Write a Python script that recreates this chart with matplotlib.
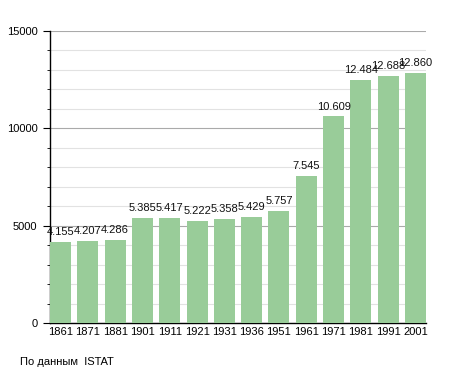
import numpy as np
import matplotlib
matplotlib.use("Agg")
from matplotlib import pyplot as plt
from matplotlib.ticker import MultipleLocator

years = ['1861', '1871', '1881', '1901', '1911', '1921', '1931',
         '1936', '1951', '1961', '1971', '1981', '1991', '2001']
population = [4155, 4207, 4286, 5385, 5417, 5222, 5358,
              5429, 5757, 7545, 10609, 12484, 12688, 12860]
value_labels = ['4.155', '4.207', '4.286', '5.385', '5.417', '5.222', '5.358',
                '5.429', '5.757', '7.545', '10.609', '12.484', '12.688', '12.860']

plt.rcParams['font.family'] = ['Liberation Sans', 'DejaVu Sans']

fig = plt.figure(figsize=(4.55, 3.73), dpi=100)
ax = fig.add_axes([50 / 455, 50 / 373, 376 / 455, 292 / 373])

x = np.arange(len(years))
w = 0.77
ax.bar(x, population, width=w, color='#99cc99', zorder=3)

# value labels above the bars
for xi, v, lab in zip(x, population, value_labels):
    ax.text(xi, v + 250, lab, ha='center', va='bottom', fontsize=8, color='#111111', zorder=4)

ax.set_xlim(-w / 2, len(years) - 1 + w / 2)
ax.set_ylim(0, 15000)
ax.set_xticks(x)
ax.set_xticklabels(years, fontsize=8)
ax.tick_params(axis='x', length=0, pad=3)

ax.yaxis.set_major_locator(MultipleLocator(5000))
ax.yaxis.set_minor_locator(MultipleLocator(1000))
ax.tick_params(axis='y', which='major', length=5, labelsize=8, pad=4)
ax.tick_params(axis='y', which='minor', length=2.5)
ax.grid(axis='y', which='major', color='#aaaaaa', linewidth=0.8, zorder=1)
ax.grid(axis='y', which='minor', color='#e2e2e2', linewidth=0.8, zorder=1)

for s in ['top', 'right']:
    ax.spines[s].set_visible(False)
ax.spines['left'].set_linewidth(1)
ax.spines['bottom'].set_linewidth(1)

fig.text(20 / 455, 1 - 362 / 373, 'По данным  ISTAT', fontsize=8, va='center', ha='left')

fig.savefig('out.png', dpi=100)
